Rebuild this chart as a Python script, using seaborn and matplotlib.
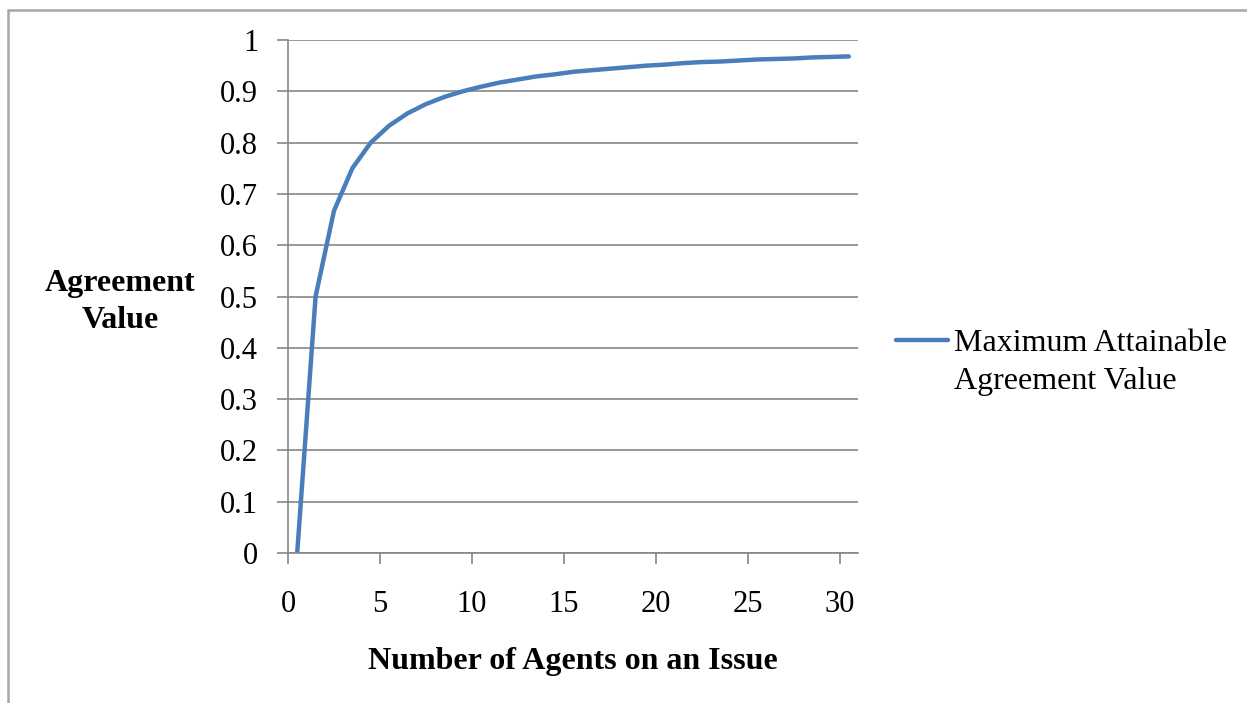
import matplotlib
matplotlib.use("Agg")
import matplotlib.pyplot as plt
import seaborn as sns
import pandas as pd
from matplotlib.patches import Rectangle

agents = [0.5, 1.5, 2.5, 3.5, 4.5, 5.5, 6.5, 7.5, 8.5, 9.5, 10.5, 11.5, 12.5, 13.5, 14.5, 15.5,
          16.5, 17.5, 18.5, 19.5, 20.5, 21.5, 22.5, 23.5, 24.5, 25.5, 26.5, 27.5, 28.5, 29.5, 30.5]
agreement = [0.0, 0.5, 0.667, 0.75, 0.8, 0.833, 0.857, 0.875, 0.889, 0.9, 0.909, 0.917, 0.923,
             0.929, 0.933, 0.938, 0.941, 0.944, 0.947, 0.95, 0.952, 0.955, 0.957, 0.958, 0.96,
             0.962, 0.963, 0.964, 0.966, 0.967, 0.968]
series_name = "Maximum Attainable\nAgreement Value"
x_ticks = [0, 5, 10, 15, 20, 25, 30]
y_ticks = [0, 0.1, 0.2, 0.3, 0.4, 0.5, 0.6, 0.7, 0.8, 0.9, 1]
y_tick_labels = ["0", "0.1", "0.2", "0.3", "0.4", "0.5", "0.6", "0.7", "0.8", "0.9", "1"]

df = pd.DataFrame({"x": agents, "y": agreement, "series": series_name})

sns.set_theme(style="white")
plt.rcParams["font.family"] = ["Liberation Serif", "DejaVu Serif"]

fig = plt.figure(figsize=(12.47, 7.03), dpi=100)
ax = fig.add_axes([288 / 1247, 1 - 553 / 703, (858 - 288) / 1247, (553 - 40) / 703])

sns.lineplot(data=df, x="x", y="y", hue="series", palette=["#4a7ebb"], linewidth=3.2,
             ax=ax, legend=True, sort=False)

ax.set_xlim(0, 31)
ax.set_ylim(0, 1)
ax.set_xticks(x_ticks)
ax.set_xticklabels([str(t) for t in x_ticks])
ax.set_yticks(y_ticks)
ax.set_yticklabels(y_tick_labels)
ax.yaxis.grid(True, color="#868686", linewidth=1.2)
ax.xaxis.grid(False)
ax.set_axisbelow(True)

for s in ["top", "right"]:
    ax.spines[s].set_visible(False)
for s in ["left", "bottom"]:
    ax.spines[s].set_color("#868686")
    ax.spines[s].set_linewidth(1.2)

ax.tick_params(axis="both", which="major", direction="out", length=8, width=1.2,
               color="#868686", labelsize=22, labelcolor="black")
ax.tick_params(axis="x", pad=19, bottom=True)
ax.tick_params(axis="y", pad=13.5, left=True)

ax.set_xlabel("Number of Agents on an Issue", fontsize=23, fontweight="bold", color="black")
ax.xaxis.set_label_coords(0.5, (553 - 647) / 513)
ax.set_ylabel("Agreement\nValue", fontsize=23, fontweight="bold", color="black",
              rotation=0, ha="center", va="center", linespacing=1.35)
ax.yaxis.set_label_coords((120 - 288) / 570, (553 - 302) / 513)

handles, labels = ax.get_legend_handles_labels()
leg = ax.legend(handles, labels, loc="upper left", bbox_to_anchor=(896 / 1247, 1 - 329 / 703),
                bbox_transform=fig.transFigure, frameon=False, fontsize=23,
                handlelength=1.63, handletextpad=0.2, borderaxespad=0, borderpad=0)
for t in leg.get_texts():
    t.set_linespacing(1.4)
    t.set_color("black")
for col in leg._legend_handle_box.get_children():
    for row in col.get_children():
        row.align = "top"

# outer chart frame
fig.patches.append(Rectangle((8 / 1247, -0.01), 1.02, 1 - 10 / 703 + 0.01, transform=fig.transFigure,
                             fill=False, edgecolor="#a6a6a6", linewidth=1.8))

fig.savefig("out.png", dpi=100)
